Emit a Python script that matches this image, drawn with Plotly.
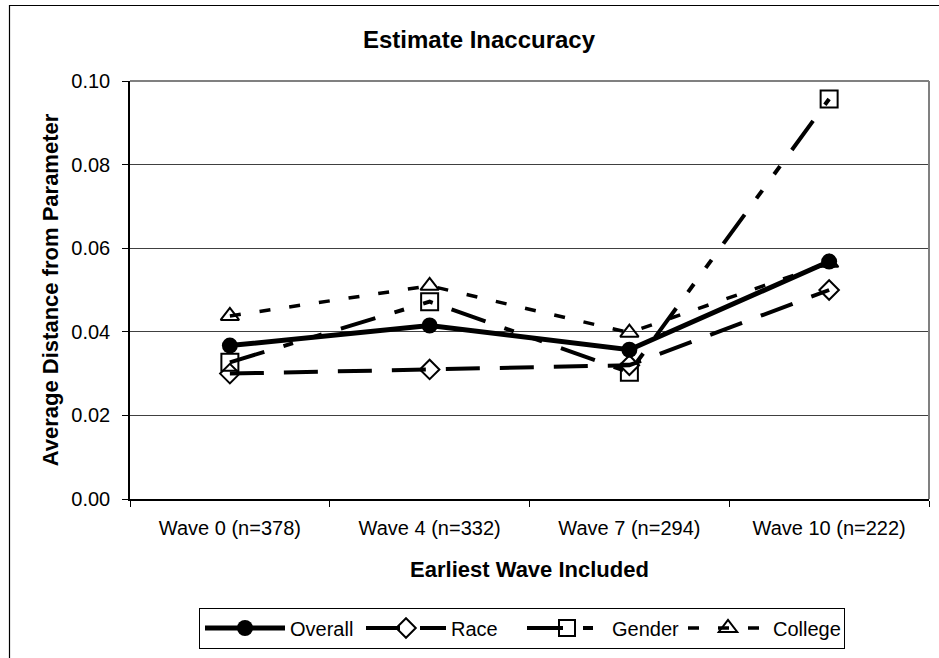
import plotly.graph_objects as go

categories = ["Wave 0 (n=378)", "Wave 4 (n=332)", "Wave 7 (n=294)", "Wave 10 (n=222)"]
overall = [0.0367, 0.0415, 0.0357, 0.0568]
race = [0.0300, 0.0310, 0.0320, 0.0500]
gender = [0.0327, 0.0472, 0.0303, 0.0957]
college = [0.0438, 0.0510, 0.0398, 0.0565]
yticks = [0.00, 0.02, 0.04, 0.06, 0.08, 0.10]

FONT = "Liberation Sans, Arial, sans-serif"

fig = go.Figure()
fig.add_trace(go.Scatter(
    x=categories, y=overall, name="Overall", mode="lines+markers",
    line=dict(color="black", width=5),
    marker=dict(symbol="circle", size=16, color="black")))
fig.add_trace(go.Scatter(
    x=categories, y=race, name="Race", mode="lines+markers",
    line=dict(color="black", width=4, dash="34px,20px"),
    marker=dict(symbol="diamond-open", size=15, color="black", line=dict(width=2))))
fig.add_trace(go.Scatter(
    x=categories, y=gender, name="Gender", mode="lines+markers",
    line=dict(color="black", width=4, dash="36px,20px,10px,20px,10px,20px"),
    marker=dict(symbol="square-open", size=17, color="black", line=dict(width=2))))
fig.add_trace(go.Scatter(
    x=categories, y=college, name="College", mode="lines+markers",
    line=dict(color="black", width=3.5, dash="11px,19px"),
    marker=dict(symbol="triangle-up-open", size=16, color="black", line=dict(width=2))))

L, R, T, B = 130, 10, 81, 159
W, H = 939, 658
pw = W - L - R
ph = H - T - B

def px_x(p):
    return (p - L) / pw

def px_y(p):
    return (H - B - p) / ph

fig.update_layout(
    width=W, height=H,
    margin=dict(l=L, r=R, t=T, b=B),
    paper_bgcolor="white", plot_bgcolor="white",
    font=dict(family=FONT, size=20, color="black"),
    title=dict(text="<b>Estimate Inaccuracy</b>", x=479 / W, xref="container", xanchor="center",
               y=1 - 40 / H, yref="container", yanchor="middle", font=dict(size=24)),
    showlegend=True,
    legend=dict(orientation="h", x=px_x(199), xanchor="left", xref="paper",
                y=px_y(628), yanchor="middle", yref="paper",
                bordercolor="black", borderwidth=1, bgcolor="white",
                font=dict(size=20), entrywidth=66, itemwidth=80),
    xaxis=dict(type="category", range=[-0.5, 3.5], showline=True, linecolor="black",
               linewidth=1.5, ticks="outside", tickson="boundaries", ticklen=6,
               tickcolor="black", showgrid=False, ticklabelstandoff=10,
               tickfont=dict(size=20),
               title=dict(text="<b>Earliest Wave Included</b>", font=dict(size=22), standoff=24)),
    yaxis=dict(range=[0, 0.10], tickvals=yticks, tickformat=".2f", showline=True,
               linecolor="black", linewidth=1.5, ticks="outside", ticklen=6,
               tickcolor="black", showgrid=True, gridcolor="#404040", gridwidth=1,
               zeroline=False, ticklabelstandoff=8, tickfont=dict(size=20),
               title=dict(text="<b>Average Distance from Parameter</b>", font=dict(size=22), standoff=7)),
)

# plot area right and top border (gray)
fig.add_shape(type="line", xref="paper", yref="paper", x0=1, x1=1, y0=0, y1=1,
              line=dict(color="#808080", width=2))
fig.add_shape(type="line", xref="paper", yref="paper", x0=0, x1=1, y0=1, y1=1,
              line=dict(color="#808080", width=2))
# outer chart frame (left and top visible)
fig.add_shape(type="rect", xref="paper", yref="paper",
              x0=px_x(9.5), x1=px_x(960), y0=px_y(680), y1=px_y(5.5),
              line=dict(color="black", width=1.2), layer="below")

fig.write_html("out.html")
